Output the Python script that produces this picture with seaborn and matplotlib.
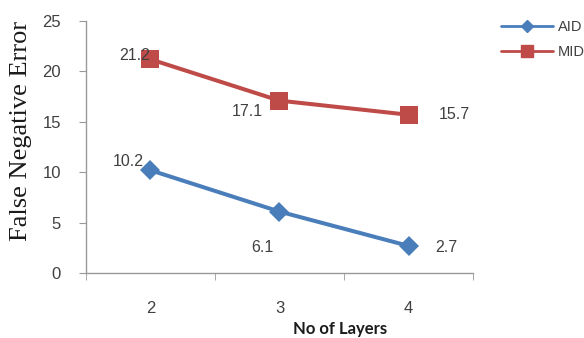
import matplotlib
matplotlib.use('Agg')
import matplotlib.pyplot as plt
from matplotlib.lines import Line2D
import seaborn as sns
import pandas as pd

# Data
layers = [2, 3, 4]
aid = [10.2, 6.1, 2.7]
mid = [21.2, 17.1, 15.7]

df = pd.DataFrame({
    'layers': layers * 2,
    'value': aid + mid,
    'series': ['AID'] * 3 + ['MID'] * 3,
})

sns.set_style('white')
plt.rcParams['font.family'] = ['Liberation Sans', 'DejaVu Sans']

fig = plt.figure(figsize=(5.84, 3.38), dpi=100)
ax = fig.add_axes([0.147, 0.192, 0.663, 0.746])

palette = {'AID': '#4A7EBB', 'MID': '#BE4B48'}
sns.lineplot(data=df[df.series == 'AID'], x='layers', y='value', color=palette['AID'],
             marker='D', linewidth=2.9, markersize=10, markeredgewidth=0, ax=ax)
sns.lineplot(data=df[df.series == 'MID'], x='layers', y='value', color=palette['MID'],
             marker='s', linewidth=2.9, markersize=13, markeredgewidth=0, ax=ax)
ax.set_xlabel('')
ax.set_ylabel('')

ax.set_xlim(1.5, 4.5)
ax.set_ylim(0, 25)
ax.set_yticks([0, 5, 10, 15, 20, 25])
ax.set_xticks(layers)
ax.set_xticks([1.5, 2.5, 3.5, 4.5], minor=True)
ax.tick_params(axis='x', which='major', length=0, pad=20, labelsize=12, labelcolor='#404040')
ax.tick_params(axis='x', which='minor', length=5, color='#999999', direction='out', bottom=True)
ax.tick_params(axis='y', length=5, color='#999999', direction='out', left=True, labelsize=12,
               labelcolor='#404040', pad=13)

for s in ['top', 'right']:
    ax.spines[s].set_visible(False)
for s in ['left', 'bottom']:
    ax.spines[s].set_color('#999999')
    ax.spines[s].set_linewidth(1)

# data labels
offsets_aid = [(-16, 6), (-12, -26), (27, -1)]
offsets_mid = [(-11, 3), (-23, -8), (33, 0)]
for x, v, o in zip(layers, aid, offsets_aid):
    ax.annotate(f'{v}', (x, v), xytext=o, textcoords='offset points', ha='center', va='center',
                fontsize=11.5, color='#404040')
for x, v, o in zip(layers, mid, offsets_mid):
    ax.annotate(f'{v}', (x, v), xytext=o, textcoords='offset points', ha='center', va='center',
                fontsize=11.5, color='#404040')

fig.text(0.036, 0.612, 'False Negative Error', rotation=90, ha='center', va='center',
         fontsize=19, family='Liberation Serif', color='#1a1a1a')
fig.text(0.582, 0.026, 'No of Layers', ha='center', va='center', fontsize=12,
         fontweight='bold', family='Lato', color='#1a1a1a')

# legend
handles = [Line2D([], [], color=palette['AID'], marker='D', markersize=6, lw=2),
           Line2D([], [], color=palette['MID'], marker='s', markersize=8, lw=2)]
fig.legend(handles, ['AID', 'MID'], loc='upper left', bbox_to_anchor=(0.835, 0.98),
           frameon=False, fontsize=10.5, handlelength=3.6, labelspacing=0.75,
           handletextpad=0.3, labelcolor='#404040')

fig.savefig('out.png', dpi=100)
